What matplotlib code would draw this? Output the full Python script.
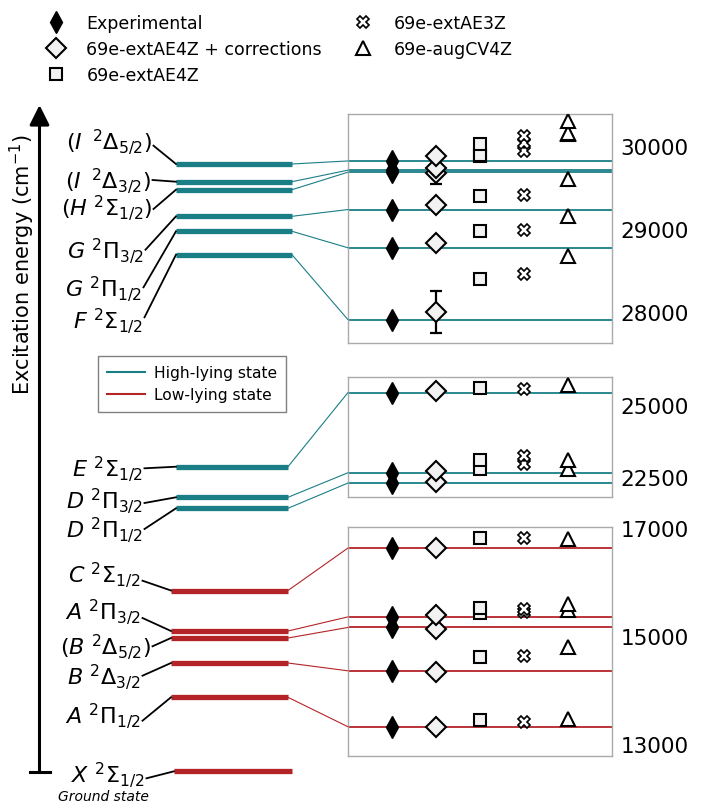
import matplotlib.pyplot as plt
from matplotlib.lines import Line2D
from matplotlib.patches import ConnectionPatch

# ------- data (cm-1) -------
methods = ['Experimental', '69e-extAE4Z + corrections', '69e-extAE4Z', '69e-extAE3Z', '69e-augCV4Z']

# high-lying states, upper block
upper_states = [r'$F\ ^2\Sigma_{1/2}$', r'$G\ ^2\Pi_{1/2}$', r'$G\ ^2\Pi_{3/2}$',
                r'$(H\ ^2\Sigma_{1/2})$', r'$(I\ \,^2\Delta_{3/2})$', r'$(I\ \,^2\Delta_{5/2})$']
upper_exp = [27908, 28772, 29232, 29681, 29705, 29816]
upper_corr = [28000, 28828, 29288, 29676, 29736, 29876]
upper_corr_err = [256, 0, 0, 0, 195, 0]
upper_ae4z = [28400, 28968, 29400, 29880, 29885, 30017]
upper_ae3z = [28452, 28988, 29408, 29936, 30036, 30116]
upper_cv4z = [28668, 29160, 29600, 30137, 30150, 30296]

# high-lying states, middle block
mid_states = [r'$D\ ^2\Pi_{1/2}$', r'$D\ ^2\Pi_{3/2}$', r'$E\ ^2\Sigma_{1/2}$']
mid_exp = [22290, 22650, 25450]
mid_corr = [22315, 22700, 25496]
mid_corr_err = [0, 0, 0]
mid_ae4z = [22765, 23080, 25611]
mid_ae3z = [22947, 23233, 25583]
mid_cv4z = [22790, 23110, 25730]

# low-lying states
low_states = [r'$A\ ^2\Pi_{1/2}$', r'$B\ ^2\Delta_{3/2}$', r'$(B\ ^2\Delta_{5/2})$',
              r'$A\ ^2\Pi_{3/2}$', r'$C\ ^2\Sigma_{1/2}$']
low_exp = [13319, 14353, 15155, 15350, 16623]
low_corr = [13319, 14325, 15124, 15382, 16621]
low_corr_err = [0, 0, 0, 0, 0]
low_ae4z = [13437, 14609, 15418, 15510, 16799]
low_ae3z = [13415, 14620, 15440, 15500, 16799]
low_cv4z = [13461, 14795, 15473, 15584, 16784]

ground_state = r'$X\ ^2\Sigma_{1/2}$'

# ------- layout of the schematic part (figure pixels) -------
upper_bar_y = [255.7, 232.3, 217.3, 190.7, 182.7, 165]
upper_lab = [(143, 321.7, 318.3), (142, 289, 288.3), (144, 251.7, 250.7),
             (152, 208.3, 210), (151, 181, 181), (152, 142.7, 146.7)]
mid_bar_y = [509.3, 498.3, 467.7]
mid_lab = [(143, 530.7, 530), (143, 501.7, 504), (143, 469, 469.3)]
low_bar_y = [698.3, 664, 639, 632, 591.5]
low_lab = [(141, 716.7, 721.7), (141, 677.3, 676.7), (151, 647.3, 647.3),
           (141, 612.3, 619), (141, 575.7, 581.7)]

teal = '#1a7e87'
red = '#b42328'
W, H = 704, 804

fig = plt.figure(figsize=(7.04, 8.04), dpi=100)
ax = fig.add_axes([0, 0, 1, 1])
ax.set_xlim(0, W)
ax.set_ylim(H, 0)
ax.axis('off')

marker_styles = [
    dict(marker='d', ms=11, mfc='k', mec='k', mew=1),
    dict(marker='D', ms=10.5, mfc='#f2f2f2', mec='k', mew=1.5),
    dict(marker='s', ms=8.5, mfc='#f2f2f2', mec='k', mew=1.5),
    dict(marker='X', ms=9, mfc='white', mec='k', mew=1.2),
    dict(marker='^', ms=9.5, mfc='white', mec='k', mew=1.5),
]


def make_panel(rect, ylim, ticks):
    pax = fig.add_axes([rect[0] / W, 1 - rect[3] / H, (rect[2] - rect[0]) / W, (rect[3] - rect[1]) / H])
    pax.set_xlim(0, 6)
    pax.set_ylim(*ylim)
    pax.set_xticks([])
    pax.set_yticks(ticks)
    pax.set_yticklabels([str(t) for t in ticks])
    pax.yaxis.tick_right()
    pax.tick_params(axis='y', length=0, labelsize=15.5, pad=6)
    for s in pax.spines.values():
        s.set_color('#aaaaaa')
        s.set_linewidth(1)
    return pax


def draw_block(pax, color, states, bar_y, labs, bar_x, exp, corr, corr_err, ae4z, ae3z, cv4z):
    for i, name in enumerate(states):
        # schematic bar
        ax.plot(bar_x, [bar_y[i], bar_y[i]], color=color, lw=3.8, solid_capstyle='butt')
        lx, ly, leader_y = labs[i]
        ax.text(lx, ly, name, ha='right', va='center', fontsize=16)
        ax.plot([lx + 1.5, bar_x[0]], [leader_y, bar_y[i]], color='k', lw=1.3)
        # level line in panel + connection
        pax.axhline(exp[i], color=color, lw=1.3, zorder=1)
        con = ConnectionPatch(xyA=(bar_x[1], bar_y[i]), coordsA=ax.transData,
                              xyB=(0, exp[i]), coordsB=pax.transData,
                              color=color, lw=0.8)
        fig.add_artist(con)
    n = len(states)
    pax.plot([1] * n, exp, ls='none', zorder=5, **marker_styles[0])
    err_idx = [i for i in range(n) if corr_err[i] > 0]
    if err_idx:
        pax.errorbar([2] * len(err_idx), [corr[i] for i in err_idx],
                     yerr=[corr_err[i] for i in err_idx], fmt='none',
                     ecolor='k', elinewidth=1.6, capsize=4, capthick=1.6, zorder=4)
    pax.plot([2] * n, corr, ls='none', zorder=5, **marker_styles[1])
    pax.plot([3] * n, ae4z, ls='none', zorder=5, **marker_styles[2])
    pax.plot([4] * n, ae3z, ls='none', zorder=5, **marker_styles[3])
    pax.plot([5] * n, cv4z, ls='none', zorder=5, **marker_styles[4])


p_up = make_panel((348, 115, 612, 344), (27628, 30380), [28000, 29000, 30000])
p_mid = make_panel((348, 378, 612, 498), (21802, 25992), [22500, 25000])
p_low = make_panel((348, 528, 612, 757), (12779, 17011), [13000, 15000, 17000])

draw_block(p_up, teal, upper_states, upper_bar_y, upper_lab, [176, 292],
           upper_exp, upper_corr, upper_corr_err, upper_ae4z, upper_ae3z, upper_cv4z)
draw_block(p_mid, teal, mid_states, mid_bar_y, mid_lab, [176, 288],
           mid_exp, mid_corr, mid_corr_err, mid_ae4z, mid_ae3z, mid_cv4z)
draw_block(p_low, red, low_states, low_bar_y, low_lab, [171, 288],
           low_exp, low_corr, low_corr_err, low_ae4z, low_ae3z, low_cv4z)

# ground state
ax.plot([174, 292], [772.3, 772.3], color=red, lw=3.8, solid_capstyle='butt')
ax.text(144, 775, ground_state, ha='right', va='center', fontsize=16)
ax.plot([146.5, 174], [779.3, 772.3], color='k', lw=1.3)
ax.text(103, 797, 'Ground state', style='italic', fontsize=10, ha='center', va='center')

# energy axis
ax.annotate('', xy=(39.5, 106), xytext=(39.5, 773),
            arrowprops=dict(arrowstyle='-|>,head_length=0.6,head_width=0.3', lw=2.2,
                            color='k', mutation_scale=20, shrinkA=0, shrinkB=0))
ax.plot([30, 49.5], [772.5, 772.5], color='k', lw=2.2)
ax.text(22, 265, 'Excitation energy (cm$^{-1}$)', rotation=90, ha='center', va='center', fontsize=15)

# legends
ebar = p_up.errorbar([], [], yerr=[], fmt='D', ms=10.5, mfc='#f2f2f2', mec='k', mew=1.5,
                     ecolor='k', elinewidth=1.6, capsize=4, capthick=1.6)
mk_handles = [Line2D([], [], ls='none', **marker_styles[0]), ebar,
              Line2D([], [], ls='none', **marker_styles[2]),
              Line2D([], [], ls='none', **marker_styles[3]),
              Line2D([], [], ls='none', **marker_styles[4])]
leg_kw = dict(loc='upper left', frameon=False, fontsize=12.5, handlelength=1.5, handletextpad=1.0,
              labelspacing=0.47, borderpad=0, borderaxespad=0)
fig.legend(mk_handles[:3], methods[:3], bbox_to_anchor=(43 / W, 1 - 15 / H), **leg_kw)
fig.legend(mk_handles[3:], methods[3:], bbox_to_anchor=(350 / W, 1 - 15 / H), **leg_kw)

line_handles = [Line2D([], [], color=teal, lw=1.5), Line2D([], [], color=red, lw=1.5)]
leg = fig.legend(line_handles, ['High-lying state', 'Low-lying state'], loc='upper left',
                 bbox_to_anchor=(98 / W, 1 - 357 / H), fontsize=11.2, handlelength=2.4,
                 handletextpad=0.6, labelspacing=0.45, borderpad=0.6, borderaxespad=0,
                 fancybox=False, edgecolor='#808080', framealpha=1)
leg.get_frame().set_linewidth(1)

plt.savefig('out.png', dpi=100)
